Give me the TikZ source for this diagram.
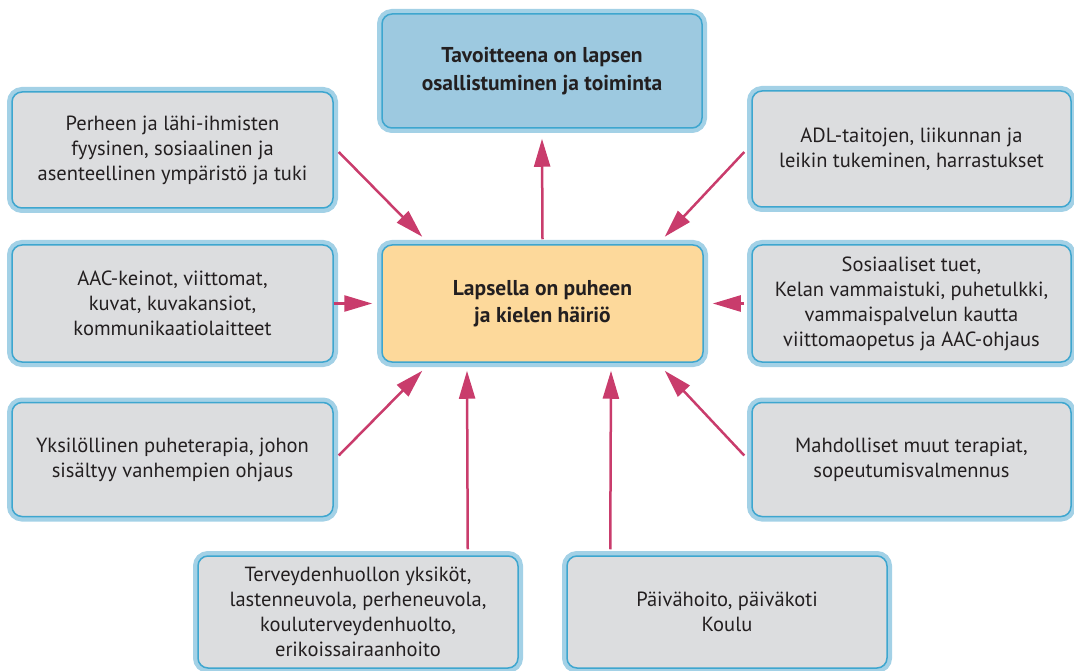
\documentclass[tikz,border=0pt]{standalone}
\usepackage{fontspec}
\setmainfont{PT Sans}
\usetikzlibrary{arrows.meta}
\definecolor{bandblue}{HTML}{A3D1E6}
\definecolor{lineblue}{HTML}{3EA6CF}
\definecolor{boxgrey}{HTML}{DCDDDF}
\definecolor{goalblue}{HTML}{9DC9E0}
\definecolor{coreorange}{HTML}{FDD99B}
\definecolor{arrowred}{HTML}{C93C6C}
\definecolor{txt}{HTML}{231F20}
\tikzset{
  box/.style={preaction={draw=bandblue, line width=10pt, rounded corners=10pt},
    draw=lineblue, line width=1.5pt, rounded corners=10pt, fill=boxgrey,
    minimum width=321pt, minimum height=116pt, inner sep=0pt,
    align=center, text=txt, font=\fontsize{20.5}{25}\selectfont},
  goalbox/.style={box, fill=goalblue, font=\fontsize{21.5}{28}\selectfont\bfseries},
  corebox/.style={box, fill=coreorange, font=\fontsize{21.5}{27}\selectfont\bfseries},
  conn/.style={draw=arrowred, line width=2.5pt, -{Triangle[length=28pt, width=16pt]}}
}
\begin{document}
\begin{tikzpicture}[x=1pt,y=-1pt]
\useasboundingbox (0,0) rectangle (1074,671);
\clip (0,0) rectangle (1074,671);
\node[goalbox, minimum width=320pt, minimum height=114pt] (goal) at (542,71) {Tavoitteena on lapsen\\osallistuminen ja toiminta};
\node[corebox, minimum height=117pt] (c) at (542.5,303.5) {Lapsella on puheen\\ja kielen häiriö};
\node[box] (tl) at (172.5,150) {Perheen ja lähi-ihmisten\\fyysinen, sosiaalinen ja\\asenteellinen ympäristö ja tuki};
\node[box, minimum height=117pt] (aac) at (172.5,303.5) {AAC-keinot, viittomat,\\kuvat, kuvakansiot,\\kommunikaatiolaitteet};
\node[box, minimum height=114pt] (yks) at (172.5,459.5) {Yksilöllinen puheterapia, johon\\sisältyy vanhempien ohjaus};
\node[box, minimum width=319pt] (tr) at (911.5,149) {ADL-taitojen, liikunnan ja\\leikin tukeminen, harrastukset};
\node[box, minimum width=319pt, minimum height=117pt] (sos) at (911.5,303.5) {Sosiaaliset tuet,\\Kelan vammaistuki, puhetulkki,\\vammaispalvelun kautta\\viittomaopetus ja AAC-ohjaus};
\node[box, minimum width=319pt, minimum height=114pt] (mah) at (911.5,459.5) {Mahdolliset muut terapiat,\\sopeutumisvalmennus};
\node[box, minimum width=320pt, minimum height=112pt] (ter) at (358,612) {Terveydenhuollon yksiköt,\\lastenneuvola, perheneuvola,\\kouluterveydenhuolto,\\erikoissairaanhoito};
\node[box, minimum width=320pt, minimum height=112pt] (pai) at (727,612) {Päivähoito, päiväkoti\\Koulu};

\draw[conn] ([yshift=5pt]c.north) -- ([yshift=-10pt]goal.south);
\draw[conn] ([shift={(5,2)}]tl.east) -- ([shift={(41,-7.5)}]c.north west);
\draw[conn] ([shift={(-7,3)}]tr.west) -- ([shift={(-39,-7.5)}]c.north east);
\draw[conn] (aac.east) -- ([xshift=-9pt]c.west);
\draw[conn] ([xshift=-7pt]sos.west) -- ([xshift=9pt]c.east);
\draw[conn] ([shift={(5,-4)}]yks.east) -- ([shift={(41,8)}]c.south west);
\draw[conn] ([shift={(-7,-4)}]mah.west) -- ([shift={(-39,8)}]c.south east);
\draw[conn] ([shift={(-51,-6)}]ter.north east) -- ([shift={(-75.5,8)}]c.south);
\draw[conn] ([shift={(44,-6)}]pai.north west) -- ([shift={(68.5,8)}]c.south);
\end{tikzpicture}
\end{document}
